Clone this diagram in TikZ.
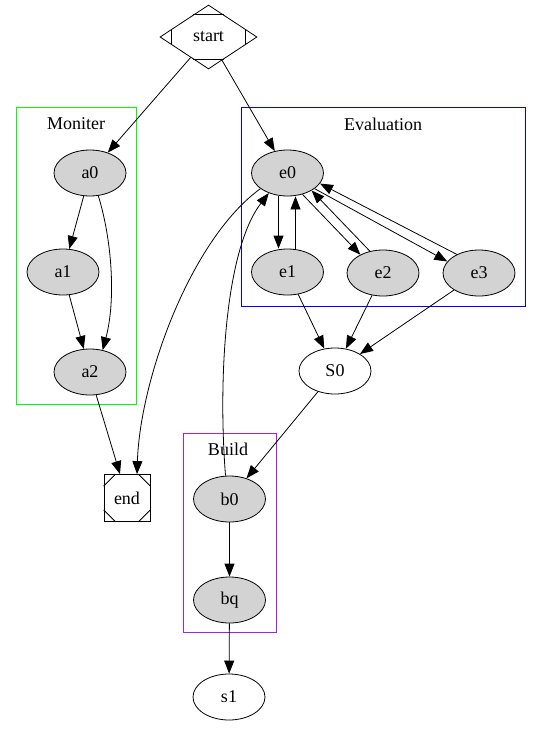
\documentclass[tikz,border=0pt]{standalone}
\usepackage{fontspec}
\setmainfont{Liberation Serif}
\usetikzlibrary{shapes.geometric,arrows.meta,calc}
\definecolor{gvgray}{HTML}{D3D3D3}
\definecolor{gvpurple}{HTML}{A020F0}
\definecolor{gvgreen}{HTML}{00FF00}
\definecolor{gvblue}{HTML}{0000FF}
\begin{document}
\begin{tikzpicture}[x=1pt,y=-1pt,line width=0.8pt,
  font=\fontsize{18}{20}\selectfont,
  gn/.style={ellipse,draw,fill=gvgray,minimum width=72pt,minimum height=46pt,inner sep=0pt},
  wn/.style={ellipse,draw,fill=white,minimum width=72pt,minimum height=46pt,inner sep=0pt},
  edge/.style={draw,-{Triangle[length=13pt,width=10pt]}},
  cluster/.style={line width=1pt},
  clab/.style={inner sep=0pt}]
\fill[white] (0,0) rectangle (541,737);
\useasboundingbox (0,0) rectangle (541,737);
% clusters
\draw[cluster,gvgreen] (16.5,107.5) rectangle (136.5,404.5);
\draw[cluster,gvblue] (241.5,107.5) rectangle (525.5,306.5);
\draw[cluster,gvpurple] (183.5,433.5) rectangle (276.5,632.5);
\node[clab] (lmon) at (76,124) {Moniter};
\node[clab] (leva) at (383,124) {Evaluation};
\node[clab] (lbld) at (228,449) {Build};
% nodes
\node[diamond,draw,minimum width=97pt,minimum height=64pt,inner sep=0pt] (start) at (208.5,37) {start};
\node[draw,minimum width=46pt,minimum height=47pt,inner sep=0pt] (end) at (127,498) {end};
\node[gn] (a0) at (90,173) {a0};
\node[gn] (a1) at (63,272) {a1};
\node[gn] (a2) at (90,372) {a2};
\node[gn] (e0) at (287.5,173) {e0};
\node[gn] (e1) at (287.5,272) {e1};
\node[gn] (e2) at (383,273) {e2};
\node[gn] (e3) at (479,273) {e3};
\node[wn] (S0) at (335,371) {S0};
\node[gn] (b0) at (229.5,499) {b0};
\node[gn] (bq) at (229.5,600) {bq};
\node[wn] (s1) at (229,697) {s1};
% Mdiamond marks
\draw ($(start.north)!0.31!(start.west)$) -- ($(start.north)!0.31!(start.east)$);
\draw ($(start.south)!0.31!(start.west)$) -- ($(start.south)!0.31!(start.east)$);
\draw ($(start.west)!0.24!(start.north)$) -- ($(start.west)!0.24!(start.south)$);
\draw ($(start.east)!0.24!(start.north)$) -- ($(start.east)!0.24!(start.south)$);
% Msquare marks
\draw ([xshift=12pt]end.north west) -- ([yshift=-12pt]end.north west);
\draw ([xshift=-12pt]end.north east) -- ([yshift=-12pt]end.north east);
\draw ([xshift=12pt]end.south west) -- ([yshift=12pt]end.south west);
\draw ([xshift=-12pt]end.south east) -- ([yshift=12pt]end.south east);
% edges
\draw[edge] (start) -- (a0);
\draw[edge] (start) -- (e0);
\draw[edge] (a0) -- (a1);
\draw[edge] (a0.-70) .. controls (112,240) and (116,300) .. (a2.60);
\draw[edge] (a1) -- (a2);
\draw[edge] (a2.-75) -- ([xshift=-7pt]end.north);
\draw[edge] (e0.-150) .. controls (190,240) and (140,380) .. ([xshift=10pt]end.north);
\draw[edge] ([xshift=-9pt]e0.south) -- ([xshift=-9pt]e1.north);
\draw[edge] ([xshift=8pt]e1.north) -- ([xshift=8pt]e0.south);
\draw[edge] (e0.-55) -- (e2.141);
\draw[edge] (e2.121) -- (e0.-36);
\draw[edge] (e0.-30) -- (e3.160);
\draw[edge] (e3.140) -- (e0.-18);
\draw[edge] (e1) -- (S0);
\draw[edge] (e2) -- (S0);
\draw[edge] (e3) -- (S0);
\draw[edge] (S0) -- (b0);
\draw[edge] ([xshift=-4pt]b0.north) .. controls (218,380) and (225,250) .. (e0.-133);
\draw[edge] (b0) -- (bq);
\draw[edge] (bq) -- (s1);
\end{tikzpicture}
\end{document}
